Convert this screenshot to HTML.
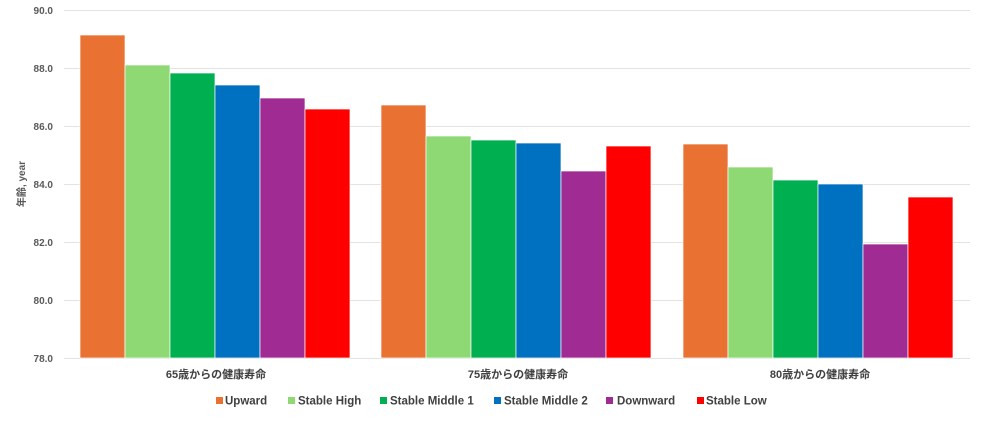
<!DOCTYPE html>
<html><head><meta charset="utf-8"><style>
body{margin:0;background:#fff}
svg{display:block;font-family:"Liberation Sans","Noto Sans CJK JP",sans-serif}
</style></head><body>
<svg width="1000" height="431" viewBox="0 0 1000 431">
<g stroke="#e3e3e3" stroke-width="1">
<line x1="64" x2="970" y1="10.5" y2="10.5"/><line x1="64" x2="970" y1="68.5" y2="68.5"/>
<line x1="64" x2="970" y1="126.5" y2="126.5"/><line x1="64" x2="970" y1="184.5" y2="184.5"/>
<line x1="64" x2="970" y1="242.5" y2="242.5"/><line x1="64" x2="970" y1="300.5" y2="300.5"/>
<line x1="64" x2="970" y1="358.5" y2="358.5"/>
</g>
<g font-size="10" font-weight="bold" fill="#595959" text-anchor="end">
<text x="53" y="14">90.0</text><text x="53" y="72">88.0</text><text x="53" y="130">86.0</text>
<text x="53" y="188">84.0</text><text x="53" y="246">82.0</text><text x="53" y="304">80.0</text>
<text x="53" y="362">78.0</text>
</g>
<text transform="translate(25,184) rotate(-90)" font-size="10" font-weight="bold" fill="#595959" text-anchor="middle">年齢, year</text>
<g stroke="#fff" stroke-width="0.7">
<rect x="80" y="35" width="45" height="323" fill="#e97132"/>
<rect x="125" y="65" width="45" height="293" fill="#8ed973"/>
<rect x="170" y="73" width="45" height="285" fill="#00b050"/>
<rect x="215" y="85" width="45" height="273" fill="#0070c0"/>
<rect x="260" y="98" width="45" height="260" fill="#a02b93"/>
<rect x="305" y="109" width="45" height="249" fill="#ff0000"/>
<rect x="381" y="105" width="45" height="253" fill="#e97132"/>
<rect x="426" y="136" width="45" height="222" fill="#8ed973"/>
<rect x="471" y="140" width="45" height="218" fill="#00b050"/>
<rect x="516" y="143" width="45" height="215" fill="#0070c0"/>
<rect x="561" y="171" width="45" height="187" fill="#a02b93"/>
<rect x="606" y="146" width="45" height="212" fill="#ff0000"/>
<rect x="683" y="144" width="45" height="214" fill="#e97132"/>
<rect x="728" y="167" width="45" height="191" fill="#8ed973"/>
<rect x="773" y="180" width="45" height="178" fill="#00b050"/>
<rect x="818" y="184" width="45" height="174" fill="#0070c0"/>
<rect x="863" y="244" width="45" height="114" fill="#a02b93"/>
<rect x="908" y="197" width="45" height="161" fill="#ff0000"/>
</g>
<g font-size="11" font-weight="bold" fill="#404040" text-anchor="middle">
<text x="216" y="378">65歳からの健康寿命</text>
<text x="518" y="378">75歳からの健康寿命</text>
<text x="820" y="378">80歳からの健康寿命</text>
</g>
<g font-size="11.5" font-weight="bold" fill="#404040">
<rect x="216" y="397" width="7" height="7" fill="#e97132"/><text x="225" y="404.5">Upward</text>
<rect x="288" y="397" width="7" height="7" fill="#8ed973"/><text x="298" y="404.5">Stable High</text>
<rect x="380" y="397" width="7" height="7" fill="#00b050"/><text x="390" y="404.5">Stable Middle 1</text>
<rect x="494" y="397" width="7" height="7" fill="#0070c0"/><text x="504" y="404.5">Stable Middle 2</text>
<rect x="606" y="397" width="7" height="7" fill="#a02b93"/><text x="617" y="404.5">Downward</text>
<rect x="697" y="397" width="7" height="7" fill="#ff0000"/><text x="706" y="404.5">Stable Low</text>
</g>
</svg>
</body></html>
